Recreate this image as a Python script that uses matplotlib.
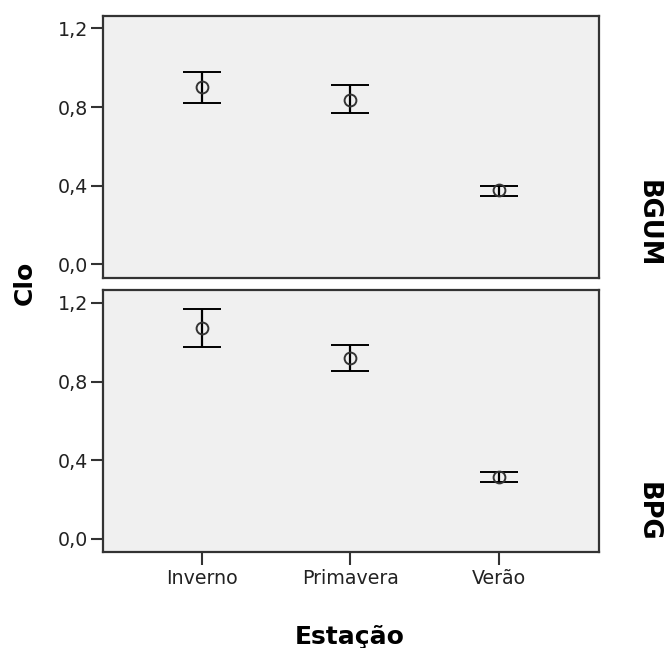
import matplotlib
matplotlib.use("Agg")
import matplotlib.pyplot as plt
import numpy as np

seasons = ["Inverno", "Primavera", "Verão"]
groups = ["BGUM", "BPG"]

# mean and interval ends
mean_bgum = [0.903, 0.838, 0.376]
low_bgum = [0.821, 0.770, 0.349]
high_bgum = [0.980, 0.910, 0.400]

mean_bpg = [1.072, 0.920, 0.315]
low_bpg = [0.977, 0.852, 0.290]
high_bpg = [1.168, 0.986, 0.341]

yticks = [0.0, 0.4, 0.8, 1.2]
ytick_labels = ["0,0", "0,4", "0,8", "1,2"]

W, H = 666, 648
fig = plt.figure(figsize=(W / 100, H / 100), dpi=100)
plt.rcParams['font.family'] = ['DejaVu Sans']

def px_axes(left, top, right, bottom):
	return fig.add_axes([left / W, 1 - bottom / H, (right - left) / W, (bottom - top) / H])

ax_top = px_axes(103, 15.7, 599, 277.7)
ax_bot = px_axes(103, 290, 599, 552.3)

data = [(ax_top, mean_bgum, low_bgum, high_bgum),
		(ax_bot, mean_bpg, low_bpg, high_bpg)]

x = np.arange(len(seasons))
for ax, m, lo, hi in data:
	m = np.array(m)
	yerr = [m - np.array(lo), np.array(hi) - m]
	ax.errorbar(x, m, yerr=yerr, fmt='o', color='black', ecolor='black',
				elinewidth=1.6, capsize=13.5, capthick=2.2,
				markersize=8.5, markerfacecolor='none', markeredgecolor='#333333',
				markeredgewidth=1.4)
	ax.set_facecolor('#f0f0f0')
	ax.set_xlim(-0.665, 2.675)
	ax.set_ylim(-0.068, 1.265)
	ax.set_yticks(yticks)
	ax.set_yticklabels(ytick_labels)
	for s in ax.spines.values():
		s.set_color('#333333')
		s.set_linewidth(1.6)
	ax.tick_params(axis='y', length=9, width=1.5, pad=1.5, labelsize=13.7,
				   color='#333333', labelcolor='#222222')
	ax.tick_params(axis='x', length=9, width=1.5, pad=3, labelsize=13.7,
				   color='#333333', labelcolor='#222222')
	ax.set_xticks(x)

ax_top.tick_params(axis='x', bottom=False, labelbottom=False)
ax_bot.set_xticklabels(seasons)

fig.text(0.5255, 1 - 644 / H, "Estação", ha='center', va='baseline',
		 fontsize=18, fontweight='bold')
fig.text(25 / W, 1 - 283 / H, "Clo", ha='center', va='center', rotation=90,
		 fontsize=18, fontweight='bold')
fig.text(648 / W, 1 - 224 / H, groups[0], ha='center', va='center', rotation=-90,
		 fontsize=18.5, fontweight='bold')
fig.text(648 / W, 1 - 512 / H, groups[1], ha='center', va='center', rotation=-90,
		 fontsize=18.5, fontweight='bold')

fig.savefig("out.png", dpi=100)
